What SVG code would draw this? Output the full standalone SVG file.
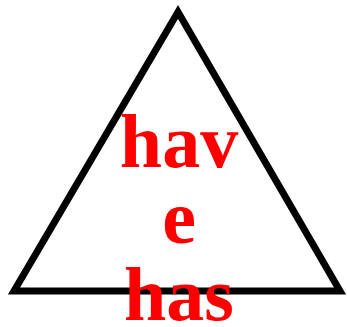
<svg xmlns="http://www.w3.org/2000/svg" width="347" height="327" viewBox="0 0 347 327">
<style>
.tri{fill:none;stroke:#000;stroke-width:7}
.lbl{font-family:"Liberation Serif",serif;font-weight:bold;font-size:76px;fill:#ff0000;text-anchor:middle}
</style>
<rect width="347" height="327" fill="#fff"/>
<g id="triangle">
<polygon class="tri" points="178,12 14,291 340,291"/>
<text class="lbl" x="179" y="167">hav</text>
<text class="lbl" x="179" y="243">e</text>
<text class="lbl" x="179" y="320">has</text>
</g>
</svg>
